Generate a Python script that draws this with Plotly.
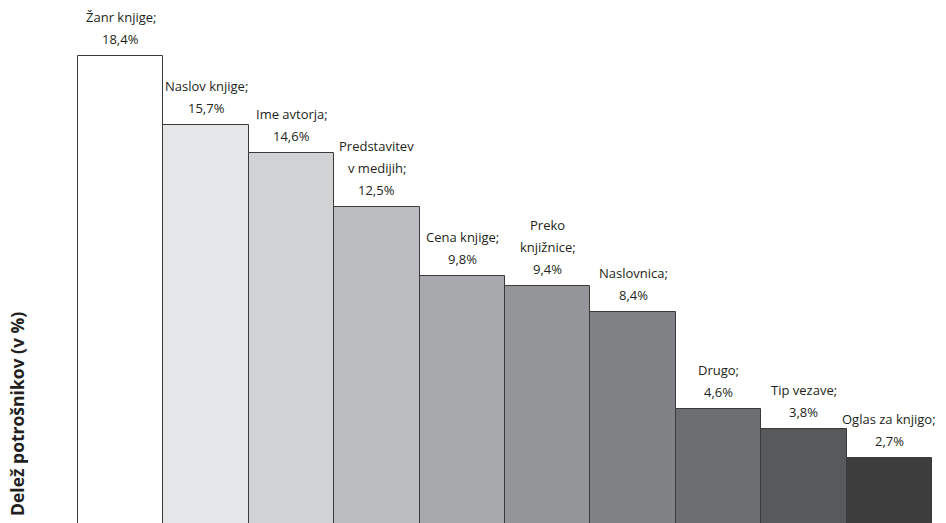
import plotly.graph_objects as go

categories = ["Žanr knjige", "Naslov knjige", "Ime avtorja", "Predstavitev v medijih",
              "Cena knjige", "Preko knjižnice", "Naslovnica", "Drugo", "Tip vezave", "Oglas za knjigo"]
values = [18.4, 15.7, 14.6, 12.5, 9.8, 9.4, 8.4, 4.6, 3.8, 2.7]
label_lines = [["Žanr knjige;"], ["Naslov knjige;"], ["Ime avtorja;"], ["Predstavitev", "v medijih;"],
               ["Cena knjige;"], ["Preko", "knjižnice;"], ["Naslovnica;"], ["Drugo;"], ["Tip vezave;"],
               ["Oglas za knjigo;"]]
colors = ["#ffffff", "#e6e7e8", "#d1d2d4", "#bcbdc0", "#a7a9ac", "#939598", "#808285",
          "#6d6e71", "#58595b", "#3d3d3d"]

W, H = 946, 523
x0_px, bw_px = 78, 85.4
px_per_unit = 25.56
y_bottom = 0.14

fig = go.Figure(go.Bar(
    x=categories, y=values, width=1,
    marker=dict(color=colors, line=dict(color="#3a3a3a", width=1)),
    hoverinfo="skip",
))

annotations = []
font = dict(family="Open Sans, Noto Sans, sans-serif", size=13, color="#231f20")
for i, (cat, v, lines) in enumerate(zip(categories, values, label_lines)):
    allines = lines + [f"{v:.1f}".replace(".", ",") + "%"]
    n = len(allines)
    for j, t in enumerate(allines):
        annotations.append(dict(
            x=cat, y=v, xref="x", yref="y", text=t, showarrow=False,
            yanchor="middle", yshift=17 + 22 * (n - 1 - j), font=font,
        ))

annotations.append(dict(
    x=17 / W, y=1 - 414 / H, xref="paper", yref="paper",
    text="<b>Delež potrošnikov (v %)</b>", textangle=-90, showarrow=False,
    font=dict(family="Open Sans, Noto Sans, sans-serif", size=17.5, color="#231f20"),
    xanchor="center", yanchor="middle",
))

fig.update_layout(
    width=W, height=H, margin=dict(l=0, r=0, t=0, b=0),
    paper_bgcolor="white", plot_bgcolor="white",
    bargap=0, showlegend=False, annotations=annotations,
    xaxis=dict(range=[-0.5 - x0_px / bw_px, -0.5 + (W - x0_px) / bw_px],
               showticklabels=False, showgrid=False, zeroline=False, showline=False, ticks=""),
    yaxis=dict(range=[y_bottom, y_bottom + H / px_per_unit],
               showticklabels=False, showgrid=False, zeroline=False, showline=False, ticks=""),
)

fig.write_html("out.html")
